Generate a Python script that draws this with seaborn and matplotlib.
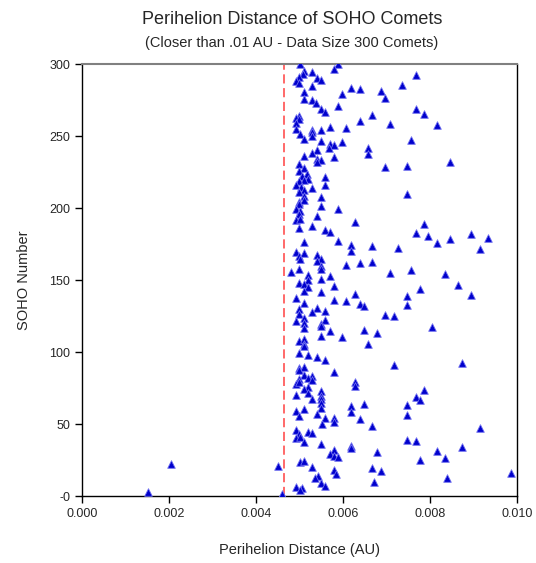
import matplotlib
matplotlib.use("Agg")
import matplotlib.pyplot as plt
import seaborn as sns
import pandas as pd

# Perihelion distance (AU) and SOHO number
perihelion = [
    0.00500, 0.00589, 0.00580, 0.00510, 0.00529, 0.00508, 0.00499, 0.00540, 0.00549, 0.00491,
    0.00499, 0.00529, 0.00618, 0.00638, 0.00687, 0.00510, 0.00598, 0.00697, 0.00510, 0.00529,
    0.00539, 0.00589, 0.00549, 0.00559, 0.00667, 0.00499, 0.00491, 0.00499, 0.00638, 0.00491,
    0.00707, 0.00569, 0.00608, 0.00491, 0.00529, 0.00549,
    0.00767, 0.00736, 0.00767, 0.00787, 0.00815,
    0.00500, 0.00529, 0.00529, 0.00510, 0.00549, 0.00598, 0.00569, 0.00580, 0.00568, 0.00658,
    0.00658, 0.00540, 0.00529, 0.00510, 0.00579, 0.00540, 0.00549, 0.00540, 0.00499, 0.00697,
    0.00510, 0.00499, 0.00517, 0.00505, 0.00520, 0.00511, 0.00499, 0.00491, 0.00503, 0.00511,
    0.00499, 0.00510, 0.00499, 0.00510, 0.00559, 0.00559, 0.00529, 0.00549,
    0.00756, 0.00747, 0.00845, 0.00747,
    0.00499, 0.00491, 0.00502, 0.00499, 0.00491, 0.00502, 0.00549, 0.00589, 0.00540, 0.00628,
    0.00529, 0.00499, 0.00559, 0.00569, 0.00510, 0.00589, 0.00618, 0.00618, 0.00667, 0.00726,
    0.00491, 0.00511, 0.00499, 0.00502, 0.00540, 0.00549, 0.00540, 0.00667, 0.00638, 0.00608,
    0.00549, 0.00549, 0.00480, 0.00499, 0.00520, 0.00569, 0.00707,
    0.00787, 0.00767, 0.00796, 0.00894, 0.00934, 0.00845, 0.00815, 0.00914, 0.00756, 0.00834,
    0.00520, 0.00549, 0.00499, 0.00511, 0.00520, 0.00511, 0.00579, 0.00549, 0.00628, 0.00491,
    0.00579, 0.00608, 0.00510, 0.00638, 0.00648, 0.00540, 0.00499, 0.00499, 0.00529, 0.00559,
    0.00697, 0.00717, 0.00510, 0.00510, 0.00491, 0.00559, 0.00549, 0.00549, 0.00510, 0.00648,
    0.00569, 0.00678, 0.00549, 0.00598, 0.00499, 0.00510, 0.00510, 0.00658,
    0.00865, 0.00776, 0.00894, 0.00747, 0.00747, 0.00805,
    0.00510, 0.00499, 0.00520, 0.00540, 0.00559, 0.00717, 0.00499, 0.00510, 0.00499, 0.00579,
    0.00510, 0.00529, 0.00520, 0.00529, 0.00499, 0.00491, 0.00499, 0.00628, 0.00628, 0.00520,
    0.00510, 0.00520, 0.00549, 0.00549, 0.00549, 0.00549, 0.00491, 0.00529, 0.00648, 0.00618,
    0.00618, 0.00549, 0.00510, 0.00491, 0.00540, 0.00499, 0.00559, 0.00579, 0.00638,
    0.00874, 0.00787, 0.00767, 0.00776, 0.00747, 0.00747,
    0.00579, 0.00551, 0.00667, 0.00491, 0.00499, 0.00491, 0.00502, 0.00520, 0.00529, 0.00510,
    0.00549, 0.00618, 0.00618, 0.00579, 0.00569, 0.00579, 0.00589, 0.00678, 0.00451, 0.00500,
    0.00511, 0.00529, 0.00579, 0.00583, 0.00667, 0.00687, 0.00543, 0.00536, 0.00671, 0.00549,
    0.00559, 0.00491, 0.00505, 0.00502, 0.00460,
    0.00914, 0.00747, 0.00767, 0.00874, 0.00815, 0.00834, 0.00776, 0.00986, 0.00840,
    0.00152, 0.00205,
]
soho_number = [
    300.0, 299.8, 296.5, 295.6, 294.7, 293.5, 291.0, 290.5, 288.7, 288.0,
    287.0, 284.7, 283.8, 282.6, 281.7, 280.5, 279.4, 276.6, 275.5, 274.8,
    273.0, 271.0, 269.0, 266.9, 264.6, 263.9, 262.3, 261.6, 260.4, 259.0,
    258.3, 256.7, 255.8, 254.9, 254.0, 254.0,
    292.8, 285.4, 268.8, 265.5, 257.6,
    251.6, 252.8, 249.8, 247.9, 246.5, 245.6, 244.7, 243.7, 241.9, 241.9,
    237.3, 240.5, 238.2, 236.3, 235.4, 234.3, 233.1, 232.2, 230.8, 228.5,
    227.6, 225.7, 223.8, 222.4, 220.4, 219.2, 218.5, 215.8, 215.0, 212.7,
    211.1, 208.1, 204.2, 205.3, 221.5, 216.4, 213.7, 207.6,
    247.4, 229.6, 231.7, 209.5,
    202.8, 199.3, 198.1, 195.8, 191.9, 192.4, 201.6, 199.3, 194.7, 190.5,
    187.7, 186.3, 184.9, 183.5, 176.6, 177.5, 174.3, 170.1, 173.4, 172.4,
    169.7, 168.8, 166.5, 164.8, 167.4, 164.6, 163.2, 162.7, 161.8, 160.4,
    159.9, 157.6, 155.8, 157.6, 153.5, 153.0, 154.9,
    188.7, 182.6, 180.8, 181.7, 179.4, 178.5, 175.7, 171.5, 156.7, 154.0,
    149.8, 150.5, 148.1, 147.4, 145.1, 142.4, 145.6, 141.4, 140.5, 137.7,
    136.3, 135.4, 134.3, 133.5, 131.7, 130.8, 129.7, 126.6, 127.6, 128.5,
    125.7, 124.8, 123.8, 120.4, 121.5, 122.4, 119.7, 118.0, 116.4, 115.5,
    114.6, 113.4, 111.3, 110.4, 107.6, 108.8, 105.8, 105.8,
    146.5, 143.5, 139.6, 138.7, 132.6, 117.4,
    104.0, 99.3, 97.9, 96.5, 94.7, 91.2, 88.9, 89.6, 87.3, 86.3,
    84.3, 83.6, 82.2, 80.3, 81.3, 78.0, 79.0, 79.4, 76.2, 75.7,
    74.3, 71.5, 72.7, 69.7, 67.4, 64.6, 70.4, 67.4, 64.1, 62.7,
    58.1, 61.1, 60.4, 59.0, 57.2, 55.3, 54.0, 54.4, 53.5,
    92.4, 73.4, 68.8, 66.4, 63.4, 56.3,
    51.6, 50.2, 48.4, 45.6, 43.3, 40.5, 41.0, 44.7, 43.5, 37.3,
    36.3, 34.9, 33.1, 32.2, 29.0, 28.0, 27.1, 30.3, 21.0, 23.4,
    24.3, 20.1, 18.3, 15.1, 19.2, 17.4, 14.1, 12.7, 9.9, 9.0,
    7.2, 6.3, 5.3, 4.0, 1.6,
    47.4, 39.1, 38.2, 34.0, 31.3, 26.2, 25.2, 16.0, 12.3,
    2.8, 22.2,
]
cutoff = 0.00464

x_ticks = [0.000, 0.002, 0.004, 0.006, 0.008, 0.010]
x_labels = ["0.000", "0.002", "0.004", "0.006", "0.008", "0.010"]
y_ticks = [0, 50, 100, 150, 200, 250, 300]
y_labels = ["-0", "50", "100", "150", "200", "250", "300"]

df = pd.DataFrame({"Perihelion": perihelion, "SOHO": soho_number})

sns.set_style("white")
plt.rcParams["font.family"] = ["Liberation Sans", "DejaVu Sans"]

fig = plt.figure(figsize=(5.36, 5.63), dpi=100)
ax = fig.add_axes([0.153, 0.119, 0.8116, 0.767])

sns.scatterplot(data=df, x="Perihelion", y="SOHO", ax=ax, marker="^", s=30,
                color="#0000cc", edgecolor="#6f6ff0", linewidth=0.6, zorder=3)
ax.axvline(cutoff, color="#ff4040", linestyle=(0, (6, 3)), linewidth=1.1, zorder=2)

ax.set_xlim(0, 0.010)
ax.set_ylim(0, 300)
ax.set_xticks(x_ticks)
ax.set_xticklabels(x_labels, fontsize=9)
ax.set_yticks(y_ticks)
ax.set_yticklabels(y_labels, fontsize=9)
ax.tick_params(direction="out", length=5, width=1, color="black", left=True, bottom=True)

for side in ["left", "bottom", "right"]:
    ax.spines[side].set_color("black")
    ax.spines[side].set_linewidth(1.0)
ax.spines["top"].set_color("#808080")
ax.spines["top"].set_linewidth(1.5)

ax.set_xlabel("Perihelion Distance (AU)", fontsize=10.5, labelpad=17)
ax.set_ylabel("SOHO Number", fontsize=10.5, labelpad=13)

fig.text(0.545, 0.966, "Perihelion Distance of SOHO Comets", ha="center", va="center", fontsize=13)
fig.text(0.545, 0.924, "(Closer than .01 AU - Data Size 300 Comets)", ha="center", va="center", fontsize=10.5)

fig.savefig("out.png", dpi=100)
